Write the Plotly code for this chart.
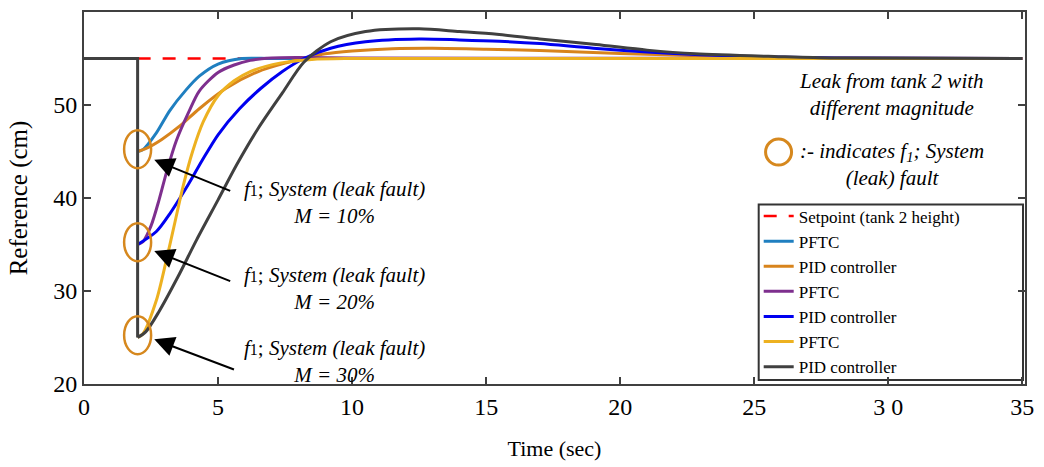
import plotly.graph_objects as go

# ---------------- data ----------------
fault_time = 2
setpoint_t = [2, 35]
setpoint_y = [55, 55]

pftc10_t = [2, 2.2, 2.7, 3.2, 3.8, 4.3, 5.0, 5.9, 7, 10, 35]
pftc10_y = [45, 45.2, 47, 49.4, 51.6, 53.1, 54.4, 55, 55, 55, 55]

pid10_t = [2, 2.3, 2.9, 3.6, 4.3, 5.3, 6.5, 7.5, 8.2, 9.0, 10, 11.5, 13, 15, 17, 19, 21, 23, 25, 28, 35]
pid10_y = [45, 45.3, 46.3, 47.8, 49.6, 51.8, 53.6, 54.5, 55.0, 55.5, 55.8, 56.05, 56.1, 56.0, 55.85, 55.65, 55.45, 55.3, 55.15, 55.05, 55]

pftc20_t = [2, 2.2, 2.5, 2.8, 3.1, 3.45, 3.9, 4.3, 5.0, 5.6, 6.2, 7, 8, 10, 35]
pftc20_y = [35, 35.3, 37, 39.8, 43, 46.2, 49.2, 51.5, 53.5, 54.3, 54.8, 55.05, 55.1, 55.05, 55]

pid20_t = [2, 2.7, 3.2, 3.9, 4.4, 5.0, 5.8, 6.6, 7.4, 8.2, 9.2, 10.5, 12.5, 14, 15.5, 17, 19, 21, 23, 25, 28, 35]
pid20_y = [35, 36.4, 38.3, 41.5, 44.0, 46.8, 49.6, 51.8, 53.6, 55.0, 56.1, 56.8, 57.1, 57.0, 56.85, 56.6, 56.1, 55.7, 55.4, 55.2, 55.05, 55]

pftc30_t = [2, 2.2, 2.7, 3.07, 3.4, 3.7, 4.05, 4.45, 5.0, 5.6, 6.2, 7.3, 8.5, 10, 35]
pftc30_y = [25, 25.4, 29, 33.3, 37.5, 41.3, 45, 48.2, 51, 52.6, 53.6, 54.5, 54.9, 55, 55]

pid30_t = [0, 2, 2, 2.3, 2.8, 3.5, 4.2, 5.0, 5.7, 6.5, 7.4, 8.2, 9.2, 10.5, 12.5, 14, 15.4, 17, 19.1, 21, 22.8, 25.9, 28, 35]
pid30_y = [55, 55, 25, 25.6, 27.8, 31.5, 35.5, 39.8, 43.6, 47.5, 51.3, 54.6, 56.8, 57.9, 58.2, 57.9, 57.6, 57.1, 56.5, 55.9, 55.5, 55.2, 55.05, 55]

fault_levels = [45, 35, 25]
magnitudes = ["10%", "20%", "30%"]
x_ticks = [0, 5, 10, 15, 20, 25, 30, 35]
x_ticktext = ["0", "5", "10", "15", "20", "25", "3 0", "35"]
y_ticks = [20, 30, 40, 50, 60]

# ---------------- style ----------------
FONT = "Liberation Serif"
C_CYAN = "#1f7fc0"
C_ORANGE = "#d8841c"
C_PURPLE = "#7e2f8e"
C_BLUE = "#0000f0"
C_YELLOW = "#edb120"
C_DARK = "#404040"
C_RED = "#ff0000"
C_CIRCLE = "#d6881e"
LW = 3

fig = go.Figure()

fig.add_trace(go.Scatter(x=setpoint_t, y=setpoint_y, mode="lines", name="Setpoint (tank 2 height)",
                         line=dict(color=C_RED, width=2.6, dash="13px,12px")))

series = [
    ("PFTC", pftc10_t, pftc10_y, C_CYAN),
    ("PID controller", pid10_t, pid10_y, C_ORANGE),
    ("PFTC", pftc20_t, pftc20_y, C_PURPLE),
    ("PID controller", pid20_t, pid20_y, C_BLUE),
    ("PFTC", pftc30_t, pftc30_y, C_YELLOW),
]
for name, tt, yy, col in series:
    fig.add_trace(go.Scatter(x=tt, y=yy, mode="lines", name=name,
                             line=dict(color=col, width=LW, shape="spline", smoothing=0.8)))

# dark PID (M = 30%): pre-fault segment and drop drawn with straight lines
fig.add_trace(go.Scatter(x=pid30_t[:3], y=pid30_y[:3], mode="lines", showlegend=False,
                         line=dict(color=C_DARK, width=LW), hoverinfo="skip"))
fig.add_trace(go.Scatter(x=pid30_t[2:], y=pid30_y[2:], mode="lines", name="PID controller",
                         line=dict(color=C_DARK, width=LW, shape="spline", smoothing=0.8)))

# ---------------- shapes ----------------
def px2paper_x(px):
    return (px - 84) / 947.0

def px2paper_y(py):
    return (387 - py) / 377.0

shapes = []
for lvl in fault_levels:
    shapes.append(dict(type="circle", xref="x", yref="y", xsizemode="pixel", ysizemode="pixel",
                       xanchor=fault_time, yanchor=lvl + 0.25, x0=-13.5, x1=13.5, y0=-19, y1=19,
                       line=dict(color=C_CIRCLE, width=2.5), layer="above"))

shapes.append(dict(type="rect", xref="paper", yref="paper",
                   x0=px2paper_x(763), x1=px2paper_x(1029), y0=px2paper_y(383), y1=px2paper_y(205),
                   line=dict(color="#333333", width=2), fillcolor="white", layer="below"))
shapes.append(dict(type="circle", xref="paper", yref="paper", xsizemode="pixel", ysizemode="pixel",
                   xanchor=px2paper_x(783), yanchor=px2paper_y(152), x0=-13, x1=13, y0=-13, y1=13,
                   line=dict(color=C_CIRCLE, width=3)))

# ---------------- annotations ----------------
annotations = []
ann_centers_y = [39.47, 30.24, 22.39]
arrow_heads_y = [44.1, 34.3, 24.8]
arrow_tails = [(5.51, 40.7), (5.51, 31.0), (5.65, 21.5)]
for m, cy, hy, (tx, ty) in zip(magnitudes, ann_centers_y, arrow_heads_y, arrow_tails):
    annotations.append(dict(x=9.35, y=cy, xref="x", yref="y", showarrow=False,
                            xanchor="center", yanchor="middle",
                            text="<i>f</i><span style='font-size:16px'>1</span>; <i>System (leak fault)</i><br><i>M = " + m + "</i>",
                            font=dict(family=FONT, size=21, color="black"), align="center"))
    annotations.append(dict(x=2.62, y=hy, ax=tx, ay=ty, xref="x", yref="y", axref="x", ayref="y",
                            text="", showarrow=True, arrowhead=2, arrowsize=2, arrowwidth=2,
                            arrowcolor="black"))

annotations.append(dict(x=px2paper_x(897), y=px2paper_y(93.5), xref="paper", yref="paper", showarrow=False,
                        xanchor="center", yanchor="middle",
                        text="<i>Leak from tank 2 with<br>different magnitude</i>",
                        font=dict(family=FONT, size=21, color="black"), align="center"))
annotations.append(dict(x=px2paper_x(897), y=px2paper_y(164.5), xref="paper", yref="paper", showarrow=False,
                        xanchor="center", yanchor="middle",
                        text="<i>:- indicates f<sub>1</sub>; System<br>(leak) fault</i>",
                        font=dict(family=FONT, size=21, color="black"), align="center"))

axis_common = dict(showgrid=False, zeroline=False, showline=True, mirror="ticks",
                   linecolor=C_DARK, linewidth=2, ticks="inside", ticklen=7, tickwidth=2,
                   tickcolor=C_DARK, tickfont=dict(family=FONT, size=24, color="black"))

fig.update_layout(
    width=1044, height=467,
    margin=dict(l=84, r=13, t=10, b=80),
    paper_bgcolor="white", plot_bgcolor="white",
    showlegend=True,
    legend=dict(x=px2paper_x(763), y=px2paper_y(199), xanchor="left", yanchor="top",
                bgcolor="rgba(0,0,0,0)", borderwidth=0,
                font=dict(family=FONT, size=17, color="black"), tracegroupgap=0),
    xaxis=dict(range=[0, 35.1], tickvals=x_ticks, ticktext=x_ticktext,
               title=dict(text="Time (sec)", font=dict(family=FONT, size=22, color="black"), standoff=22),
               **axis_common),
    yaxis=dict(range=[20, 60], tickvals=y_ticks,
               title=dict(text="Reference (cm)", font=dict(family=FONT, size=25, color="black"), standoff=18),
               **axis_common),
    shapes=shapes,
    annotations=annotations,
)

fig.write_html("out.html")
